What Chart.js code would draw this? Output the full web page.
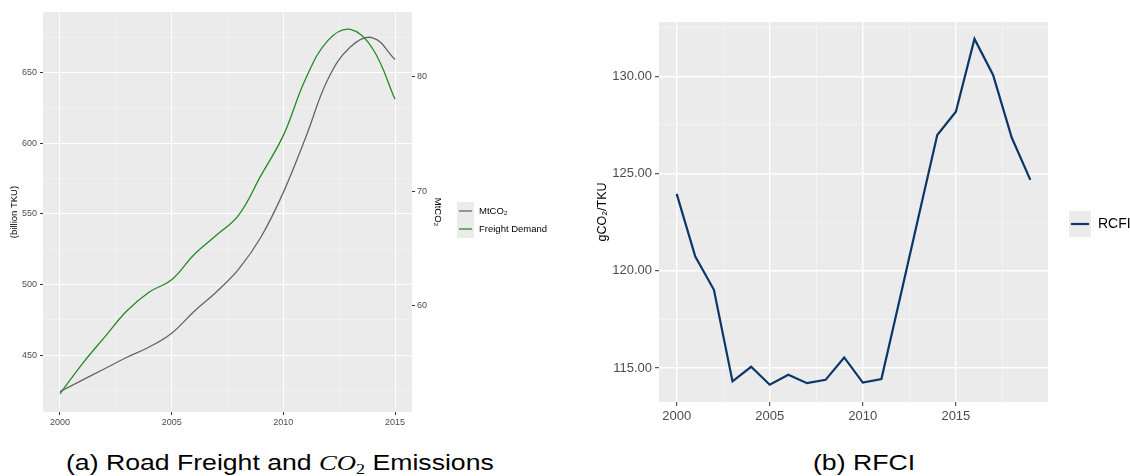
<!DOCTYPE html>
<html lang="en">
<head>
<meta charset="UTF-8">
<title>Road Freight, CO2 and RFCI</title>
<script src="https://cdn.jsdelivr.net/npm/chart.js"></script>
<style>
  body { margin: 0; background: #fff; font-family: "Liberation Sans", Arial, sans-serif; }
  #wrap { position: relative; width: 1130px; height: 476px; overflow: hidden; }
  canvas { position: absolute; top: 0; }
  #chartA { left: 0; }
  #chartB { left: 580px; }
  .cap { position: absolute; top: 449px; font-size: 22px; line-height: 28px; color: #000; white-space: nowrap;
         transform: scaleX(1.21); transform-origin: 0 0; }
  .cap i { font-family: "Liberation Serif", serif; }
  .cap sub { font-size: 15px; vertical-align: -4px; line-height: 0; font-style: normal; }
</style>
</head>
<body>
<div id="wrap">
  <canvas id="chartA" width="600" height="440"></canvas>
  <canvas id="chartB" width="550" height="440"></canvas>
  <div class="cap" style="left:66px">(a) Road Freight and <i>CO<sub>2</sub></i> Emissions</div>
  <div class="cap" style="left:813px">(b) RFCI</div>
</div>

<script>
// ---- data: panel (a) ----
const yearsA = [2000, 2001, 2002, 2003, 2004, 2005, 2006, 2007, 2008, 2009, 2010, 2011, 2012, 2013, 2014, 2015];
const freightDemand = [422.6, 443.8, 462.7, 481.3, 494.6, 503.3, 521.0, 534.7, 549.0, 577.1, 605.4, 645.5, 672.6, 680.4, 666.7, 630.9]; // billion TKU
const mtco2 = [52.5, 53.5, 54.5, 55.5, 56.4, 57.6, 59.5, 61.2, 63.2, 66.0, 69.9, 74.7, 79.8, 82.6, 83.4, 81.5]; // MtCO2

const xMajorA = [2000, 2005, 2010, 2015];
const xMinorA = [2002.5, 2007.5, 2012.5];
const yMajorA = [450, 500, 550, 600, 650];
const yMinorA = [425, 475, 525, 575, 625, 675];
const y2TicksA = [60, 70, 80];

// ---- data: panel (b) ----
const yearsB = [2000, 2001, 2002, 2003, 2004, 2005, 2006, 2007, 2008, 2009, 2010, 2011, 2012, 2013, 2014, 2015, 2016, 2017, 2018, 2019];
const rfci = [123.95, 120.73, 119.02, 114.31, 115.06, 114.14, 114.65, 114.22, 114.39, 115.54, 114.25, 114.43, 118.6, 122.8, 126.98, 128.18, 131.92, 130.07, 126.85, 124.67];

const xMajorB = [2000, 2005, 2010, 2015];
const xMinorB = [2002.5, 2007.5, 2012.5, 2017.5];
const yMajorB = [115, 120, 125, 130];
const yMinorB = [117.5, 122.5, 127.5, 132.5];

const FONT = '"Liberation Sans", Arial, sans-serif';
const TICK_TXT = '#4d4d4d';

function setTicks(values) {
  return scale => { scale.ticks = values.slice().sort((a, b) => a - b).map(v => ({ value: v })); };
}

function ggGrid(major, tickLen, majorW, minorW) {
  const isMajor = v => major.includes(v);
  return {
    color: c => isMajor(c.tick.value) ? '#ffffff' : '#f6f6f6',
    lineWidth: c => isMajor(c.tick.value) ? majorW : minorW,
    tickColor: c => isMajor(c.tick.value) ? '#333333' : 'rgba(0,0,0,0)',
    tickLength: tickLen,
    tickWidth: 1
  };
}

// grey panel + ggplot-like legend keys
function ggPanel(legend) {
  return {
    id: 'ggPanel',
    beforeDraw(chart) {
      const { ctx, chartArea: a } = chart;
      ctx.save();
      ctx.fillStyle = '#ebebeb';
      ctx.fillRect(a.left, a.top, a.right - a.left, a.bottom - a.top);
      ctx.restore();
    },
    afterDraw(chart) {
      const ctx = chart.ctx;
      ctx.save();
      ctx.fillStyle = '#ebebeb';
      ctx.fillRect(legend.x, legend.y, legend.w, legend.keyH * legend.items.length);
      legend.items.forEach((it, i) => {
        const cy = legend.y + legend.keyH * (i + 0.5);
        ctx.strokeStyle = it.color;
        ctx.lineWidth = it.width;
        ctx.beginPath();
        ctx.moveTo(legend.x + 2, cy);
        ctx.lineTo(legend.x + legend.w - 2, cy);
        ctx.stroke();
        ctx.fillStyle = '#000';
        ctx.font = legend.size + 'px ' + FONT;
        ctx.textBaseline = 'middle';
        ctx.fillText(it.label, legend.x + legend.w + legend.gap, cy);
      });
      ctx.restore();
    }
  };
}

// ---- chart (a) ----
new Chart(document.getElementById('chartA'), {
  type: 'line',
  data: {
    datasets: [
      {
        label: 'MtCO₂',
        data: yearsA.map((y, i) => ({ x: y, y: mtco2[i] })),
        yAxisID: 'y2',
        borderColor: '#666666',
        borderWidth: 1.3,
        pointRadius: 0,
        tension: 0.4
      },
      {
        label: 'Freight Demand',
        data: yearsA.map((y, i) => ({ x: y, y: freightDemand[i] })),
        yAxisID: 'y',
        borderColor: '#228b22',
        borderWidth: 1.3,
        pointRadius: 0,
        tension: 0.4
      }
    ]
  },
  options: {
    responsive: false,
    animation: false,
    layout: { padding: { top: 12, right: 153, bottom: 0, left: 0 } },
    plugins: { legend: { display: false }, tooltip: { enabled: false } },
    scales: {
      x: {
        type: 'linear',
        min: 1999.24, max: 2015.76,
        afterBuildTicks: setTicks(xMajorA.concat(xMinorA)),
        afterFit: s => { s.height = 28; },
        grid: ggGrid(xMajorA, 3, 1, 0.5),
        border: { display: false },
        ticks: {
          autoSkip: false, maxRotation: 0, padding: 2,
          color: TICK_TXT, font: { family: FONT, size: 9 },
          callback: v => xMajorA.includes(v) ? String(v) : ''
        }
      },
      y: {
        position: 'left',
        min: 409.7, max: 692.7,
        afterBuildTicks: setTicks(yMajorA.concat(yMinorA)),
        afterFit: s => { s.width = 43; },
        grid: ggGrid(yMajorA, 3, 1, 0.5),
        border: { display: false },
        title: {
          display: true, text: '(billion TKU)', color: '#000',
          font: { family: FONT, size: 9.5 }, padding: { top: 9, bottom: 0 }
        },
        ticks: {
          padding: 3, color: TICK_TXT, font: { family: FONT, size: 9 },
          callback: v => yMajorA.includes(v) ? String(v) : ''
        }
      },
      y2: {
        position: 'right',
        min: 50.72, max: 85.65,
        afterBuildTicks: setTicks(y2TicksA),
        afterFit: s => { s.width = 35; },
        grid: { drawOnChartArea: false, tickColor: '#333333', tickLength: 3, tickWidth: 1 },
        border: { display: false },
        title: {
          display: true, text: 'MtCO₂', color: '#000',
          font: { family: FONT, size: 9.5 }, padding: { top: 4, bottom: 0 }
        },
        ticks: { padding: 2, color: TICK_TXT, font: { family: FONT, size: 9 } }
      }
    }
  },
  plugins: [ggPanel({
    x: 457, y: 202, w: 17, keyH: 18, gap: 5, size: 9.5,
    items: [
      { label: 'MtCO₂', color: '#666666', width: 1.3 },
      { label: 'Freight Demand', color: '#228b22', width: 1.3 }
    ]
  })]
});

// ---- chart (b) ----
new Chart(document.getElementById('chartB'), {
  type: 'line',
  data: {
    datasets: [{
      label: 'RCFI',
      data: yearsB.map((y, i) => ({ x: y, y: rfci[i] })),
      borderColor: '#0a3768',
      borderWidth: 2.2,
      pointRadius: 0,
      tension: 0
    }]
  },
  options: {
    responsive: false,
    animation: false,
    layout: { padding: { top: 22, right: 82, bottom: 0, left: 0 } },
    plugins: { legend: { display: false }, tooltip: { enabled: false } },
    scales: {
      x: {
        type: 'linear',
        min: 1999.05, max: 2019.95,
        afterBuildTicks: setTicks(xMajorB.concat(xMinorB)),
        afterFit: s => { s.height = 38; },
        grid: ggGrid(xMajorB, 4, 1.4, 0.7),
        border: { display: false },
        ticks: {
          autoSkip: false, maxRotation: 0, padding: 3,
          color: TICK_TXT, font: { family: FONT, size: 13 },
          callback: v => xMajorB.includes(v) ? String(v) : ''
        }
      },
      y: {
        min: 113.25, max: 132.79,
        afterBuildTicks: setTicks(yMajorB.concat(yMinorB)),
        afterFit: s => { s.width = 79; },
        grid: ggGrid(yMajorB, 4, 1.4, 0.7),
        border: { display: false },
        title: {
          display: true, text: 'gCO₂/TKU', color: '#000',
          font: { family: FONT, size: 12.5 }, padding: { top: 15.5, bottom: 0 }
        },
        ticks: {
          padding: 3, color: TICK_TXT, font: { family: FONT, size: 13 },
          callback: v => yMajorB.includes(v) ? v.toFixed(2) : ''
        }
      }
    }
  },
  plugins: [ggPanel({
    x: 489, y: 211, w: 22, keyH: 26, gap: 7, size: 14,
    items: [{ label: 'RCFI', color: '#0a3768', width: 2.2 }]
  })]
});
</script>
</body>
</html>
